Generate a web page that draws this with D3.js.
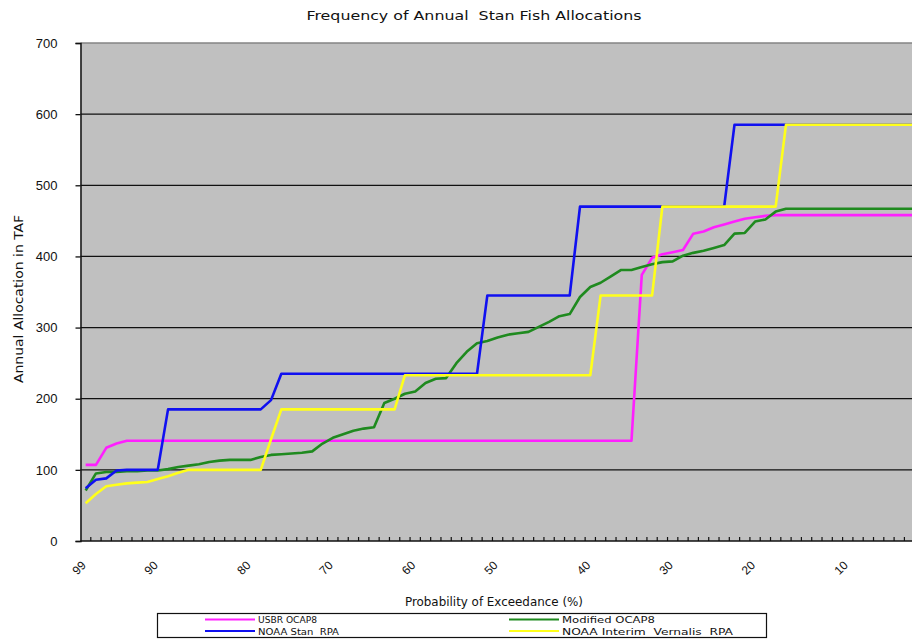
<!DOCTYPE html>
<html lang="en">
  <head>
    <meta charset="UTF-8" />
    <title>stan fish allocations</title>
    <script src="https://cdn.jsdelivr.net/npm/d3@7"></script>
    <style>
      body {
        margin: 0;
        background: #fff;
      }
      svg {
        display: block;
        overflow: hidden;
      }
      text {
        white-space: pre;
      }
    </style>
  </head>
  <body>
    <svg id="chart" width="912" height="639"></svg>
    <script>
      // 82 ranked years, plotted from wettest (left) to driest
      let categories = d3.range(82);
      let tickIndex = [0, 7, 16, 24, 32, 40, 49, 57, 65, 74];
      let tickLabels = ["99", "90", "80", "70", "60", "50", "40", "30", "20", "10"];
      let yTicks = [0, 100, 200, 300, 400, 500, 600, 700];

      let usbr = [107, 107, 131, 137, 141, 141, 141, 141, 141, 141,
        141, 141, 141, 141, 141, 141, 141, 141, 141, 141,
        141, 141, 141, 141, 141, 141, 141, 141, 141, 141,
        141, 141, 141, 141, 141, 141, 141, 141, 141, 141,
        141, 141, 141, 141, 141, 141, 141, 141, 141, 141,
        141, 141, 141, 141, 374, 398, 403, 406, 409, 432,
        435, 441, 445, 449, 453, 455, 457, 458, 458, 458,
        458, 458, 458, 458, 458, 458, 458, 458, 458, 458,
        458, 458];
      let modified = [71, 95, 97, 97, 98, 98, 99, 99, 101, 104,
        106, 108, 111, 113, 114, 114, 114, 118, 121, 122,
        123, 124, 126, 137, 145, 150, 155, 158, 160, 194,
        200, 207, 210, 222, 228, 229, 250, 266, 278, 281,
        286, 290, 292, 294, 301, 308, 316, 319, 343, 357,
        363, 372, 381, 381, 385, 389, 392, 393, 401, 405,
        408, 412, 416, 432, 433, 449, 452, 463, 467, 467,
        467, 467, 467, 467, 467, 467, 467, 467, 467, 467,
        467, 467];
      let noaaStan = [74, 86, 88, 99, 100, 100, 100, 100, 185, 185,
        185, 185, 185, 185, 185, 185, 185, 185, 198, 235,
        235, 235, 235, 235, 235, 235, 235, 235, 235, 235,
        235, 235, 235, 235, 235, 235, 235, 235, 235, 345,
        345, 345, 345, 345, 345, 345, 345, 345, 470, 470,
        470, 470, 470, 470, 470, 470, 470, 470, 470, 470,
        470, 470, 470, 585, 585, 585, 585, 585, 585, 585,
        585, 585, 585, 585, 585, 585, 585, 585, 585, 585,
        585, 585];
      let noaaVernalis = [53, 66, 77, 79, 81, 82, 83, 87, 91, 96,
        100, 100, 100, 100, 100, 100, 100, 100, 143, 185,
        185, 185, 185, 185, 185, 185, 185, 185, 185, 185,
        185, 233, 233, 233, 233, 233, 233, 233, 233, 233,
        233, 233, 233, 233, 233, 233, 233, 233, 233, 233,
        345, 345, 345, 345, 345, 345, 470, 470, 470, 470,
        470, 470, 470, 470, 470, 470, 470, 470, 585, 585,
        585, 585, 585, 585, 585, 585, 585, 585, 585, 585,
        585, 585];

      let seriesNames = ["USBR OCAP8", "Modified OCAP8", "NOAA Stan  RPA", "NOAA Interim  Vernalis  RPA"];
      let seriesColors = ["#ff1fff", "#1f8a1f", "#1010f0", "#ffff1a"];
      let seriesData = [usbr, modified, noaaStan, noaaVernalis];

      let svg = d3.select("#chart");
      let plotLeft = 80.5,
        plotTop = 43,
        plotBottom = 541,
        plotRight = 925;

      let x = d3.scaleBand().domain(categories).range([plotLeft, plotRight]);
      let xc = (i) => x(i) + x.bandwidth() / 2;
      let y = d3.scaleLinear().domain([0, 700]).range([plotBottom, plotTop]);

      // plot background
      svg
        .append("rect")
        .attr("x", plotLeft)
        .attr("y", plotTop)
        .attr("width", plotRight - plotLeft)
        .attr("height", plotBottom - plotTop)
        .attr("fill", "#c0c0c0");

      // gridlines
      svg
        .append("g")
        .selectAll("line")
        .data(yTicks.filter((d) => d > 0))
        .join("line")
        .attr("x1", plotLeft)
        .attr("x2", plotRight)
        .attr("y1", (d) => y(d))
        .attr("y2", (d) => y(d))
        .attr("stroke", (d) => (d === 700 ? "#858585" : "#111"))
        .attr("stroke-width", 1.3);

      // y axis
      let yAxis = svg
        .append("g")
        .attr("transform", `translate(${plotLeft},0)`)
        .call(d3.axisLeft(y).tickValues(yTicks).tickSize(5).tickPadding(18));
      yAxis.select(".domain").attr("stroke", "#111").attr("stroke-width", 1.5);
      yAxis.selectAll(".tick line").attr("stroke", "#111").attr("stroke-width", 1.3);
      yAxis
        .selectAll("text")
        .attr("font-family", "Liberation Sans, Arial, sans-serif")
        .attr("font-size", 13)
        .attr("fill", "#111");

      // x axis: category tick marks point inside
      let xAxis = svg
        .append("g")
        .attr("transform", `translate(0,${plotBottom})`);
      xAxis
        .append("line")
        .attr("x1", plotLeft)
        .attr("x2", plotRight)
        .attr("stroke", "#111")
        .attr("stroke-width", 1.5);
      xAxis
        .selectAll("line.tk")
        .data(categories.slice(1))
        .join("line")
        .attr("class", "tk")
        .attr("x1", (d) => x(d))
        .attr("x2", (d) => x(d))
        .attr("y1", 0)
        .attr("y2", -4)
        .attr("stroke", "#111")
        .attr("stroke-width", 1.2);
      xAxis
        .selectAll("text")
        .data(tickIndex)
        .join("text")
        .attr("transform", (d) => `translate(${xc(d) + 1},25) rotate(-45)`)
        .attr("text-anchor", "end")
        .attr("font-family", "Liberation Sans, Arial, sans-serif")
        .attr("font-size", 12)
        .attr("fill", "#111")
        .text((d, i) => tickLabels[i]);

      // series lines
      let line = d3
        .line()
        .x((d, i) => xc(i))
        .y((d) => y(d));
      svg
        .append("g")
        .selectAll("path")
        .data(seriesData)
        .join("path")
        .attr("d", line)
        .attr("fill", "none")
        .attr("stroke", (d, i) => seriesColors[i])
        .attr("stroke-width", 2.6)
        .attr("stroke-linejoin", "round");

      // titles
      svg
        .append("text")
        .attr("x", 474)
        .attr("y", 20)
        .attr("text-anchor", "middle")
        .attr("font-family", "DejaVu Sans, Verdana, sans-serif")
        .attr("font-size", 12)
        .attr("textLength", 335)
        .attr("lengthAdjust", "spacingAndGlyphs")
        .attr("fill", "#111")
        .text("Frequency of Annual  Stan Fish Allocations");
      svg
        .append("text")
        .attr("x", 494)
        .attr("y", 606)
        .attr("text-anchor", "middle")
        .attr("font-family", "Liberation Sans Narrow, DejaVu Sans Condensed, sans-serif")
        .attr("font-size", 13)
        .attr("textLength", 178)
        .attr("lengthAdjust", "spacingAndGlyphs")
        .attr("fill", "#111")
        .text("Probability of Exceedance (%)");
      svg
        .append("text")
        .attr("transform", "translate(23,299) rotate(-90)")
        .attr("text-anchor", "middle")
        .attr("font-family", "Liberation Sans Narrow, DejaVu Sans Condensed, sans-serif")
        .attr("font-size", 13)
        .attr("textLength", 168)
        .attr("lengthAdjust", "spacingAndGlyphs")
        .attr("fill", "#111")
        .text("Annual Allocation in TAF");

      // legend
      let legend = svg.append("g");
      legend
        .append("rect")
        .attr("x", 157.5)
        .attr("y", 613.5)
        .attr("width", 609)
        .attr("height", 24)
        .attr("fill", "#fff")
        .attr("stroke", "#111")
        .attr("stroke-width", 1.2);
      let legendX = [205, 205, 509, 509];
      let legendY = [619.5, 631, 619.5, 631];
      let legendLen = [59, 93, 81, 171];
      let order = [0, 2, 1, 3];
      let item = legend
        .selectAll("g")
        .data(seriesNames)
        .join("g")
        .attr("transform", (d, i) => `translate(${legendX[order[i]]},${legendY[order[i]]})`);
      item
        .append("line")
        .attr("x1", 0)
        .attr("x2", 50)
        .attr("stroke", (d, i) => seriesColors[i])
        .attr("stroke-width", 1.8);
      item
        .append("text")
        .attr("x", 53)
        .attr("y", 3.5)
        .attr("font-family", "Liberation Sans Narrow, DejaVu Sans Condensed, sans-serif")
        .attr("font-size", 9.5)
        .attr("textLength", (d, i) => legendLen[i])
        .attr("lengthAdjust", "spacingAndGlyphs")
        .attr("fill", "#111")
        .text((d) => d);
    </script>
  </body>
</html>
